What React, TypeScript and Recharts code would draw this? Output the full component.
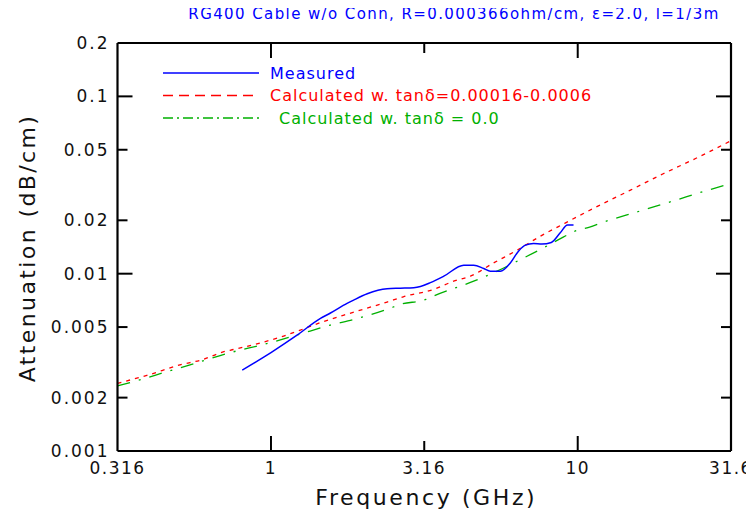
import React from 'react';
import { LineChart, Line, XAxis, YAxis, Legend, Label, ReferenceLine } from 'recharts';

const chartTitle = 'RG400 Cable w/o Conn, R=0.000366ohm/cm, ε=2.0, l=1/3m';
const xAxisTitle = 'Frequency (GHz)';
const yAxisTitle = 'Attenuation (dB/cm)';
const seriesNames = ['Measured', 'Calculated w. tanδ=0.00016-0.0006', 'Calculated w. tanδ = 0.0'];

const xTicks = [0.316, 1, 3.16, 10, 31.6];
const xMajor = [1, 10];
const yTicks = [0.001, 0.002, 0.005, 0.01, 0.02, 0.05, 0.1, 0.2];
const yMajor = [0.01, 0.1];

const measuredFreq = [0.806, 0.947, 1.0, 1.216, 1.45, 1.563, 1.77, 1.86, 2.06, 2.39, 2.64, 2.92, 3.07, 3.31, 3.66, 4.25, 4.58, 4.94, 5.19, 5.6, 6.03, 6.41, 6.75, 7.18, 7.64, 8.2, 8.77, 9.26, 9.69];
const measuredAtt = [0.00286, 0.00338, 0.00359, 0.0045, 0.0056, 0.006, 0.0068, 0.0071, 0.0077, 0.00822, 0.00828, 0.00834, 0.00847, 0.0089, 0.00968, 0.01117, 0.01117, 0.0107, 0.01033, 0.01033, 0.0115, 0.0134, 0.0145, 0.0148, 0.0147, 0.015, 0.017, 0.0188, 0.0188];

const lossyFreq = [0.316, 0.394, 0.512, 0.589, 0.702, 0.757, 1.1, 1.247, 1.45, 1.73, 2.39, 2.7, 3.39, 3.94, 4.47, 5.32, 6.34, 7.55, 9.1, 11.5, 14.8, 19.0, 24.4, 31.6];
const lossyAtt = [0.00241, 0.00267, 0.00308, 0.00325, 0.00363, 0.00374, 0.00445, 0.00481, 0.0053, 0.00584, 0.00692, 0.00741, 0.00815, 0.00907, 0.00968, 0.0115, 0.01356, 0.01626, 0.0193, 0.0238, 0.0295, 0.0366, 0.0449, 0.0562];

const losslessFreq = [0.316, 0.38, 0.448, 0.568, 0.738, 0.947, 1.216, 1.563, 1.86, 2.39, 2.64, 3.2, 3.39, 4.58, 5.46, 6.34, 7.74, 9.0, 9.77, 11.0, 12.1, 15.6, 20.3, 26.4, 31.6];
const losslessAtt = [0.00233, 0.00254, 0.00277, 0.00313, 0.00359, 0.00399, 0.00451, 0.00513, 0.00552, 0.00629, 0.00671, 0.00716, 0.00748, 0.00907, 0.01033, 0.01175, 0.014, 0.01614, 0.01734, 0.01836, 0.0195, 0.0223, 0.0256, 0.0295, 0.0322];

const toPoints = (fs: number[], vs: number[]) => fs.map((f, i) => ({ f, v: vs[i] }));
const measuredData = toPoints(measuredFreq, measuredAtt);
const lossyData = toPoints(lossyFreq, lossyAtt);
const losslessData = toPoints(losslessFreq, losslessAtt);

const W = 746;
const H = 507;
const M = { top: 35, right: 23, left: 0, bottom: 0 };
const Y_AXIS_W = 109.5;
const X_AXIS_H = 64;
const PLOT_W = W - M.right - M.left - Y_AXIS_W;
const PLOT_H = H - M.top - M.bottom - X_AXIS_H;

const FONT = '"DejaVu Sans", Verdana, sans-serif';
const COLORS = ['#0000ff', '#ff0000', '#00b000'];
const DASHES = [undefined, '4 5', '13 9 2 9'];
const LEGEND_DASHES = [undefined, '10 6', '10 4 2 4'];
const FRAME = { stroke: '#000', strokeWidth: 2.2 };

const xDomain = [xTicks[0], xTicks[xTicks.length - 1]];
const yDomain = [yTicks[0], yTicks[yTicks.length - 1]];

// tick-mark lengths (pixels) converted to multiplicative factors on the log axes
const pxPerDecX = PLOT_W / Math.log10(xDomain[1] / xDomain[0]);
const pxPerDecY = PLOT_H / Math.log10(yDomain[1] / yDomain[0]);
const xLenFactor = (px: number) => Math.pow(10, px / pxPerDecX);
const yLenFactor = (px: number) => Math.pow(10, px / pxPerDecY);

const innerX = xTicks.slice(1, -1);
const innerY = yTicks.slice(1, -1);

const XTick = (props: any) => {
  const { x, y, payload } = props;
  const v = payload.value;
  return (
    <text x={x} y={y + 17} textAnchor="middle" dominantBaseline="central" fontFamily={FONT} fontSize={17} letterSpacing={1.5} fill="#111">
      {String(v)}
    </text>
  );
};

const YTick = (props: any) => {
  const { x, y, payload } = props;
  const v = payload.value;
  return (
    <text x={x - 8} y={y} textAnchor="end" dominantBaseline="central" fontFamily={FONT} fontSize={17} letterSpacing={2} fill="#111">
      {String(v)}
    </text>
  );
};

const LegendContent = (props: any) => {
  const payload = props.payload || [];
  return (
    <svg width={500} height={72} style={{ display: 'block', overflow: 'visible' }}>
      {payload.map((e: any, i: number) => (
        <g key={i} transform={`translate(0, ${10 + i * 22.5})`}>
          <line x1={0} y1={0} x2={96} y2={0} stroke={COLORS[i]} strokeWidth={1.3} strokeDasharray={LEGEND_DASHES[i]} />
          <text x={107 + (i === 2 ? 9 : 0)} y={0} dominantBaseline="central" fill={COLORS[i]} fontFamily={FONT} fontSize={16} letterSpacing={1}>
            {e.value}
          </text>
        </g>
      ))}
    </svg>
  );
};

export default function App() {
  const tickMarks: any[] = [];
  innerX.forEach((t) => {
    const len = xMajor.includes(t) ? 15 : 10;
    const f = yLenFactor(len);
    tickMarks.push(
      <ReferenceLine key={`xb${t}`} segment={[{ x: t, y: yDomain[0] }, { x: t, y: yDomain[0] * f }]} stroke="#000" strokeWidth={2} ifOverflow="visible" />,
      <ReferenceLine key={`xt${t}`} segment={[{ x: t, y: yDomain[1] }, { x: t, y: yDomain[1] / f }]} stroke="#000" strokeWidth={2} ifOverflow="visible" />
    );
  });
  innerY.forEach((t) => {
    const len = yMajor.includes(t) ? 15 : 10;
    const f = xLenFactor(len);
    tickMarks.push(
      <ReferenceLine key={`yl${t}`} segment={[{ x: xDomain[0], y: t }, { x: xDomain[0] * f, y: t }]} stroke="#000" strokeWidth={2} ifOverflow="visible" />,
      <ReferenceLine key={`yr${t}`} segment={[{ x: xDomain[1], y: t }, { x: xDomain[1] / f, y: t }]} stroke="#000" strokeWidth={2} ifOverflow="visible" />
    );
  });

  return (
    <div style={{ position: 'relative', width: W, height: H }}>
      <style>{`.recharts-surface{overflow:visible}`}</style>
      <LineChart width={W} height={H} margin={M} style={{ fontFamily: FONT }}>
        <XAxis
          dataKey="f"
          type="number"
          scale="log"
          domain={xDomain}
          ticks={xTicks}
          interval={0}
          allowDataOverflow
          axisLine={FRAME}
          tickLine={false}
          tickSize={0}
          tickMargin={0}
          height={X_AXIS_H}
          tick={<XTick />}
        >
          <Label
            content={(p: any) => {
              const vb = p.viewBox || {};
              return (
                <text x={vb.x + vb.width / 2 + 2} y={vb.y + 46} textAnchor="middle" dominantBaseline="central" fontFamily={FONT} fontSize={22} letterSpacing={2.6} fill="#111">
                  {xAxisTitle}
                </text>
              );
            }}
          />
        </XAxis>
        <YAxis
          dataKey="v"
          type="number"
          scale="log"
          domain={yDomain}
          ticks={yTicks}
          interval={0}
          allowDataOverflow
          axisLine={FRAME}
          tickLine={false}
          tickSize={0}
          tickMargin={0}
          width={Y_AXIS_W}
          tick={<YTick />}
        >
          <Label
            content={(p: any) => {
              const vb = p.viewBox || {};
              const cx = 19.5;
              const cy = vb.y + vb.height / 2 + 1;
              return (
                <text x={cx} y={cy} transform={`rotate(-90 ${cx} ${cy})`} textAnchor="middle" dominantBaseline="central" fontFamily={FONT} fontSize={22} letterSpacing={2.4} fill="#111">
                  {yAxisTitle}
                </text>
              );
            }}
          />
        </YAxis>
        <ReferenceLine y={yDomain[1]} ifOverflow="visible" {...FRAME} />
        <ReferenceLine x={xDomain[1]} ifOverflow="visible" {...FRAME} />
        {tickMarks}
        <Line data={lossyData} dataKey="v" name={seriesNames[1]} stroke={COLORS[1]} strokeWidth={1.3} strokeDasharray={DASHES[1]} dot={false} type="monotone" isAnimationActive={false} />
        <Line data={losslessData} dataKey="v" name={seriesNames[2]} stroke={COLORS[2]} strokeWidth={1.3} strokeDasharray={DASHES[2]} dot={false} type="monotone" isAnimationActive={false} />
        <Line data={measuredData} dataKey="v" name={seriesNames[0]} stroke={COLORS[0]} strokeWidth={1.5} dot={false} type="monotone" isAnimationActive={false} />
        <Legend
          layout="vertical"
          align="center"
          verticalAlign="middle"
          wrapperStyle={{ left: 155, top: 55, width: 500, height: 72 }}
          content={() => {
            const items = seriesNames.map((name) => ({ value: name }));
            return <LegendContent payload={items} />;
          }}
        />
      </LineChart>
      <div
        style={{
          position: 'absolute',
          left: 0,
          top: -2,
          zIndex: 5,
          width: W,
          paddingLeft: 146,
          boxSizing: 'border-box',
          textAlign: 'center',
          color: '#0000ff',
          fontFamily: FONT,
          fontSize: 15,
          lineHeight: '16px',
          letterSpacing: 1.4,
          whiteSpace: 'nowrap',
          pointerEvents: 'none',
        }}
      >
        {chartTitle}
      </div>
    </div>
  );
}
